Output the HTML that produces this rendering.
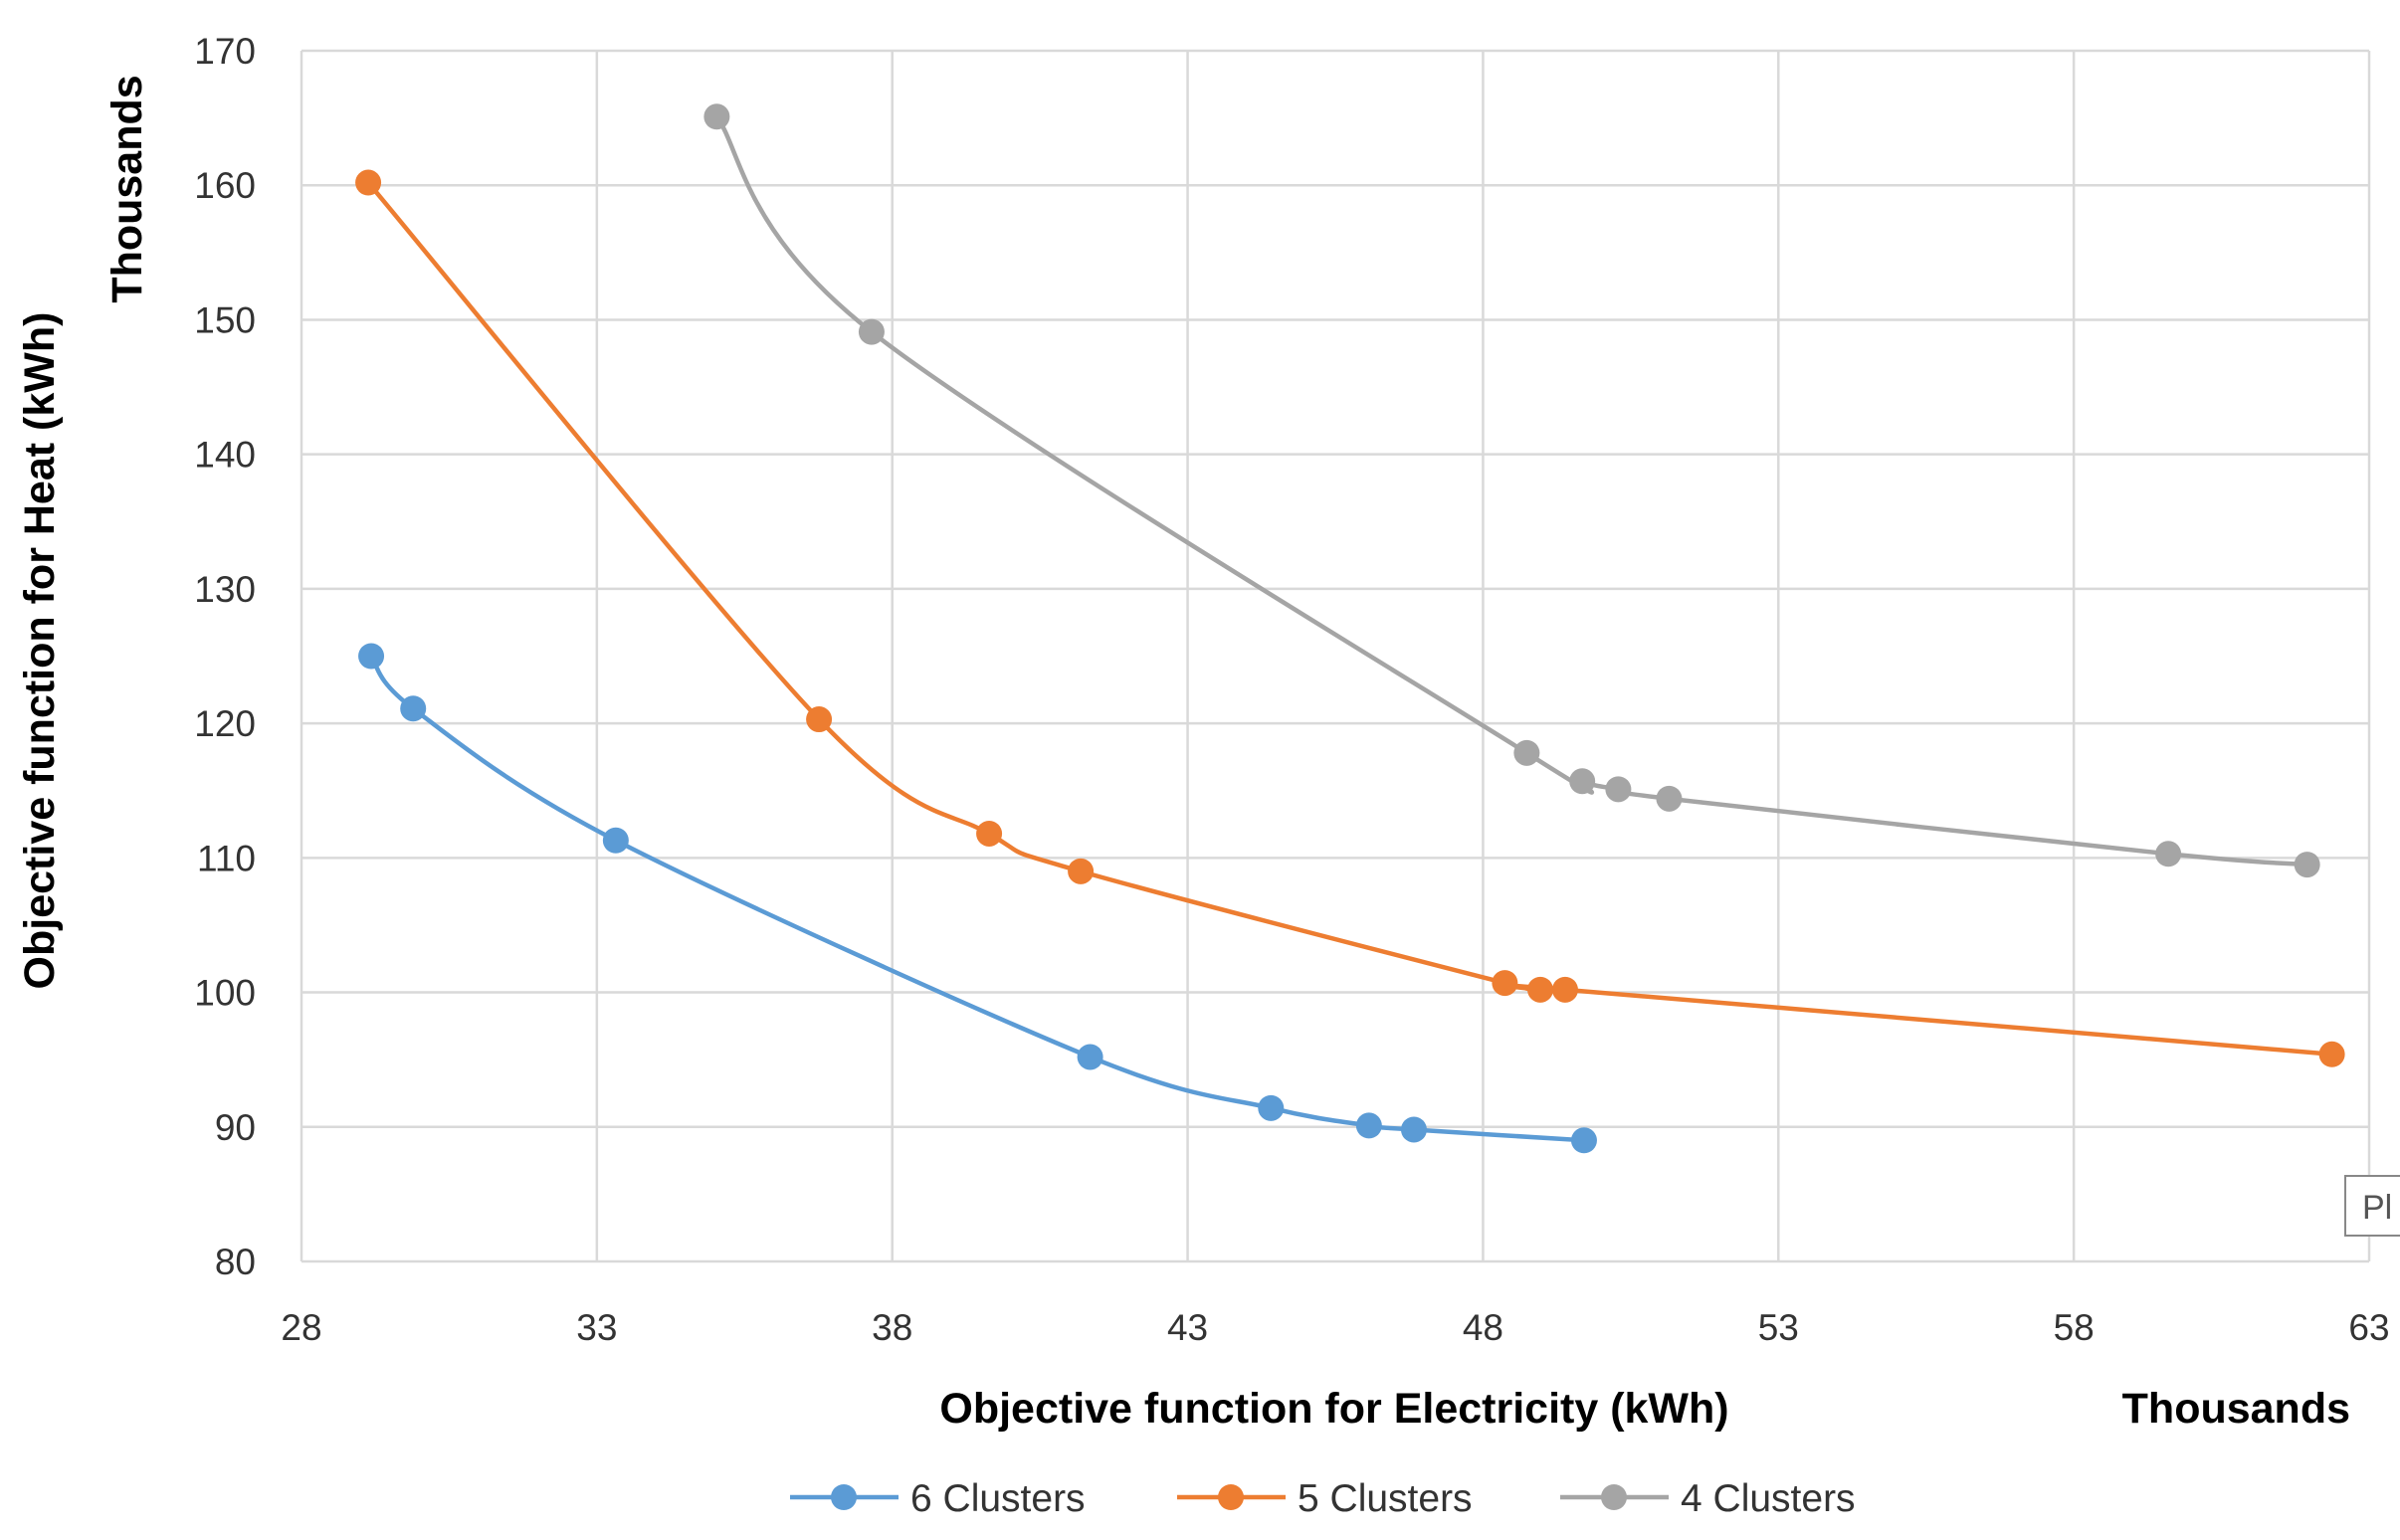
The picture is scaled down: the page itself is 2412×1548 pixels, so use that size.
<!DOCTYPE html>
<html><head><meta charset="utf-8"><style>
html,body{margin:0;padding:0;background:#fff;}
svg{display:block;font-family:"Liberation Sans",sans-serif;}
</style></head><body>
<svg id="chart" width="2412" height="1548" viewBox="0 0 2412 1548" xmlns="http://www.w3.org/2000/svg">
<rect width="2412" height="1548" fill="#fff"/>
<g id="grid"></g>
<g id="ticks"></g>
<g id="series"></g>
<text x="54" y="654" transform="rotate(-90 54 654)" text-anchor="middle" font-size="43" font-weight="bold" fill="#000">Objective function for Heat (kWh)</text>
<text x="142" y="190" transform="rotate(-90 142 190)" text-anchor="middle" font-size="43" font-weight="bold" fill="#000">Thousands</text>
<text x="1341" y="1430" text-anchor="middle" font-size="43" font-weight="bold" fill="#000">Objective function for Electricity (kWh)</text>
<text x="2362" y="1430" text-anchor="end" font-size="43" font-weight="bold" fill="#000">Thousands</text>
<g id="legend"></g>
<rect x="2357" y="1182" width="60" height="60" fill="#fff" stroke="#888" stroke-width="2"/>
<text x="2374" y="1225" font-size="34" fill="#555">Pl</text>
</svg>
<script>
const xTicks=[28,33,38,43,48,53,58,63];
const yTicks=[80,90,100,110,120,130,140,150,160,170];
const seriesNames=["6 Clusters","5 Clusters","4 Clusters"];
const x6=[29.18,29.89,33.32,41.35,44.41,46.07,46.83,49.71];
const y6=[125.0,121.1,111.3,95.2,91.4,90.1,89.8,89.0];
const x5=[29.13,36.76,39.64,41.19,48.37,48.97,49.39,62.37];
const y5=[160.2,120.3,111.8,109.0,100.7,100.2,100.2,95.4];
const x4=[35.03,37.65,48.74,49.68,50.29,51.15,59.60,61.95];
const y4=[165.1,149.1,117.8,115.7,115.1,114.4,110.3,109.5];
const colors=["#5B9BD5","#ED7D31","#A5A5A5"];
const L=303,R=2381,T=51,B=1268;
const sx=v=>L+(v-28)/(63-28)*(R-L);
const sy=v=>B-(v-80)/(170-80)*(B-T);
const NS="http://www.w3.org/2000/svg";
function mk(tag,attrs,parent){const e=document.createElementNS(NS,tag);for(const k in attrs)e.setAttribute(k,attrs[k]);parent.appendChild(e);return e;}
const grid=document.getElementById('grid'),ticks=document.getElementById('ticks');
xTicks.forEach(t=>{
 const l=mk('line',{x1:sx(t),x2:sx(t),y1:T,y2:B,stroke:'#d9d9d9','stroke-width':2.5},grid);
 
 
 const tx=mk('text',{x:sx(t),y:1347,'text-anchor':'middle','font-size':37,fill:'#333'},ticks);
 tx.textContent=t;
 
 
});
yTicks.forEach(t=>{
 const l=mk('line',{x1:L,x2:R,y1:sy(t),y2:sy(t),stroke:'#d9d9d9','stroke-width':2.5},grid);
 
 
 const tx=mk('text',{x:257,y:sy(t)+13,'text-anchor':'end','font-size':37,fill:'#333'},ticks);
 tx.textContent=t;
 
 
});
function smooth(p){
 let d=`M${p[0][0]},${p[0][1]}`;
 for(let i=0;i<p.length-1;i++){
  const p0=p[i-1]||p[i],p1=p[i],p2=p[i+1],p3=p[i+2]||p2,k=0.16;
  d+=` C${p1[0]+(p2[0]-p0[0])*k},${p1[1]+(p2[1]-p0[1])*k} ${p2[0]-(p3[0]-p1[0])*k},${p2[1]-(p3[1]-p1[1])*k} ${p2[0]},${p2[1]}`;
 }
 return d;
}
const sg=document.getElementById('series');
[[x6,y6],[x5,y5],[x4,y4]].forEach((s,i)=>{
 const pts=s[0].map((x,j)=>[sx(x),sy(s[1][j])]);
 const path=mk('path',{d:smooth(pts),fill:'none',stroke:colors[i],'stroke-width':4.5},sg);
 
 
 pts.forEach(p=>{
  const c=mk('circle',{cx:p[0],cy:p[1],r:13,fill:colors[i]},sg);
  
  
 });
});
const lg=document.getElementById('legend');
const lx=[794,1183,1568];
seriesNames.forEach((n,i)=>{
 const y=1505;
 const l=mk('line',{x1:lx[i],x2:lx[i]+109,y1:y,y2:y,stroke:colors[i],'stroke-width':4.5},lg);
 
 
 const c=mk('circle',{cx:lx[i]+54,cy:y,r:13,fill:colors[i]},lg);
 
 
 const t=mk('text',{x:lx[i]+121,y:y+14,'font-size':39,fill:'#333'},lg);
 t.textContent=n;
 
 
});
</script>
</body></html>
